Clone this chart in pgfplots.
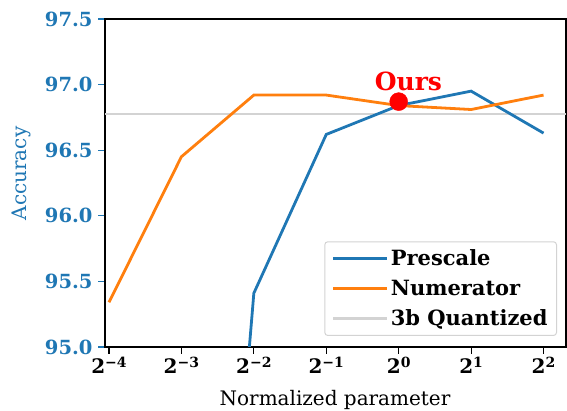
\documentclass[border=0pt]{standalone}
\usepackage{fontspec}
\setmainfont{DejaVu Serif}
\usepackage{pgfplots}
\pgfplotsset{compat=1.18}
\definecolor{tabblue}{HTML}{1F77B4}
\definecolor{taborange}{HTML}{FF7F0E}
\definecolor{qgray}{HTML}{D3D3D3}
\newcommand\ptk[1]{\textbf{2}\raisebox{5.5pt}{\fontsize{14}{14}\selectfont\bfseries #1}}
\begin{document}
\begin{tikzpicture}
\begin{axis}[
  width=461pt, height=328pt, scale only axis,
  xmin=-4.055, xmax=2.31, ymin=95, ymax=97.5,
  xtick={-4,-3,-2,-1,0,1,2},
  xticklabels={\ptk{−4},\ptk{−3},\ptk{−2},\ptk{−1},\ptk{0},\ptk{1},\ptk{2}},
  ytick={95,95.5,96,96.5,97,97.5},
  yticklabels={95.0,95.5,96.0,96.5,97.0,97.5},
  yticklabel style={font=\fontsize{19.5}{19.5}\selectfont\bfseries, text=tabblue, xshift=-2pt},
  xticklabel style={font=\fontsize{20}{20}\selectfont},
  tick align=outside, major tick length=7pt,
  xtick style={black, line width=1.2pt},
  ytick style={tabblue, line width=1.2pt},
  xtick pos=bottom, ytick pos=left,
  axis line style={line width=1.4pt},
  xlabel={Normalized parameter}, ylabel={Accuracy},
  label style={font=\fontsize{20}{24}\selectfont},
  xlabel style={at={(axis description cs:0.499,-0.177)}, anchor=base},
  ylabel style={at={(axis description cs:-0.170,0.529)}, anchor=base, text=tabblue},
  legend style={at={(rel axis cs:0.9805,0.0335)}, anchor=south east,
    draw=qgray, rounded corners=3pt, fill=white, line width=1pt,
    font=\fontsize{21}{25}\selectfont\bfseries,
    inner xsep=7pt, inner ysep=6pt, row sep=9pt},
  legend cell align=left,
  legend image code/.code={\draw[#1] (0pt,0pt) -- (45pt,0pt);
    \path (0pt,0pt) -- (54pt,0pt);},
]
\addlegendimage{tabblue, line width=3pt}
\addlegendentry{Prescale}
\addlegendimage{taborange, line width=3pt}
\addlegendentry{Numerator}
\addlegendimage{qgray, line width=3pt}
\addlegendentry{3b Quantized}

\addplot[qgray, line width=2.8pt, forget plot] coordinates {(-4.055,96.775) (2.31,96.775)};
\addplot[tabblue, line width=2.8pt, forget plot] coordinates {
(-3,88.76) (-2,95.41) (-1,96.62) (0,96.84) (1,96.95) (2,96.63)};
\addplot[taborange, line width=2.8pt, forget plot] coordinates {
(-4,95.34) (-3,96.45) (-2,96.92) (-1,96.92) (0,96.84) (1,96.81) (2,96.92)};
\addplot[only marks, mark=*, mark size=9pt, color=red, forget plot] coordinates {(0,96.87)};
\node[text=red, font=\fontsize{25}{25}\selectfont\bfseries, anchor=base] at (axis cs:0.134,96.953) {Ours};

\coordinate (bbl) at (rel axis cs:-0.2278,-0.1951);
\coordinate (btr) at (rel axis cs:1.00217,1.0579);
\end{axis}
\pgfresetboundingbox
\path[use as bounding box] (bbl) rectangle (btr);
\end{tikzpicture}
\end{document}
